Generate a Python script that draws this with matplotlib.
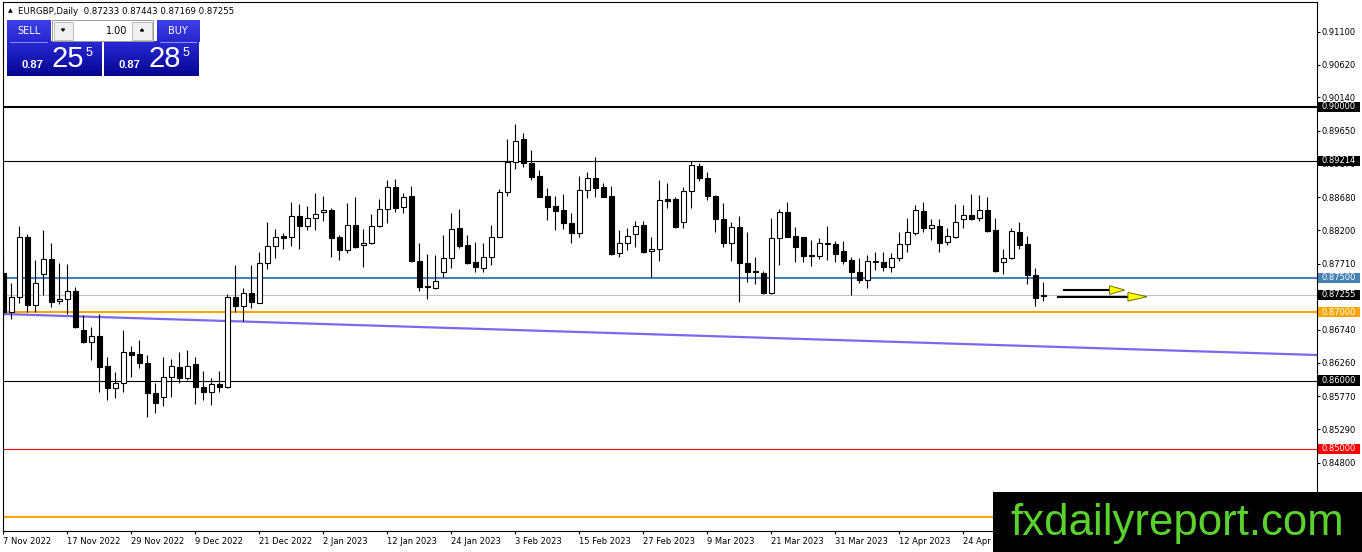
import numpy as np
import matplotlib
matplotlib.use('Agg')
import matplotlib.pyplot as plt
from matplotlib.patches import Rectangle, Polygon
from matplotlib.transforms import blended_transform_factory

# EURGBP daily candles, 7 Nov 2022 .. 8 May 2023 (one per weekday)
opens = [
    0.87568, 0.87007, 0.87217, 0.88095, 0.87105, 0.87558, 0.87773, 0.87159, 0.87188, 0.87310,
    0.86739, 0.86568, 0.86652, 0.86213, 0.85896, 0.85960, 0.86422, 0.86384, 0.86252, 0.85813,
    0.85755, 0.86057, 0.86194, 0.86033, 0.86238, 0.85906, 0.85837, 0.85945, 0.85910, 0.87217,
    0.87095, 0.87281, 0.87139, 0.87715, 0.87967, 0.88114, 0.88095, 0.88410, 0.88260, 0.88381,
    0.88460, 0.88494, 0.88095, 0.87909, 0.88274, 0.87978, 0.88016, 0.88264, 0.88504, 0.88827,
    0.88533, 0.88699, 0.87748, 0.87387, 0.87358, 0.87592, 0.87787, 0.88226, 0.87978, 0.87729,
    0.87641, 0.87802, 0.88104, 0.88752, 0.89193, 0.89527, 0.89187, 0.88991, 0.88699, 0.88552,
    0.88494, 0.88302, 0.88162, 0.88786, 0.88957, 0.88826, 0.88699, 0.87861, 0.88011, 0.88139,
    0.88270, 0.87894, 0.87919, 0.88650, 0.88650, 0.88314, 0.88772, 0.89139, 0.88962, 0.88699,
    0.88358, 0.88016, 0.88243, 0.87715, 0.87602, 0.87568, 0.87285, 0.88080, 0.88460, 0.88114,
    0.88095, 0.87836, 0.87821, 0.88001, 0.87997, 0.87894, 0.87763, 0.87592, 0.87471, 0.87748,
    0.87729, 0.87665, 0.87787, 0.87991, 0.88153, 0.88479, 0.88235, 0.88260, 0.88022, 0.88104,
    0.88358, 0.88421, 0.88372, 0.88494, 0.88201, 0.87729, 0.87787, 0.88168, 0.87991, 0.87544,
    0.87233]
highs = [
    0.87884, 0.87426, 0.88260, 0.88143, 0.87763, 0.88201, 0.88016, 0.87723, 0.87700, 0.87372,
    0.86959, 0.86779, 0.86969, 0.86349, 0.86130, 0.86739, 0.86505, 0.86593, 0.86374, 0.85960,
    0.86349, 0.86311, 0.86413, 0.86447, 0.86349, 0.86144, 0.86033, 0.86144, 0.87266, 0.87690,
    0.87347, 0.87690, 0.87875, 0.88314, 0.88216, 0.88162, 0.88606, 0.88577, 0.88557, 0.88738,
    0.88704, 0.88523, 0.88128, 0.88592, 0.88680, 0.88216, 0.88435, 0.88650, 0.88932, 0.88943,
    0.88747, 0.88845, 0.88016, 0.87851, 0.87836, 0.88128, 0.88445, 0.88504, 0.88128, 0.88022,
    0.88007, 0.88274, 0.88796, 0.89527, 0.89751, 0.89615, 0.89371, 0.89079, 0.88811, 0.88699,
    0.88728, 0.88445, 0.88991, 0.89054, 0.89264, 0.88884, 0.88845, 0.88201, 0.88226, 0.88338,
    0.88333, 0.88095, 0.88932, 0.88893, 0.88689, 0.88835, 0.89217, 0.89187, 0.89050, 0.88713,
    0.88601, 0.88323, 0.88406, 0.88168, 0.87802, 0.87602, 0.88372, 0.88508, 0.88615, 0.88241,
    0.88104, 0.88055, 0.88080, 0.88264, 0.88045, 0.88045, 0.87811, 0.87787, 0.87836, 0.87884,
    0.87884, 0.87869, 0.88168, 0.88372, 0.88567, 0.88615, 0.88358, 0.88362, 0.88226, 0.88582,
    0.88567, 0.88728, 0.88713, 0.88689, 0.88372, 0.87922, 0.88226, 0.88314, 0.88115, 0.87641,
    0.87443]
lows = [
    0.86837, 0.86896, 0.87130, 0.87007, 0.87007, 0.87251, 0.87071, 0.87120, 0.86969, 0.86764,
    0.86554, 0.86301, 0.85837, 0.85716, 0.85750, 0.85837, 0.86057, 0.86179, 0.85463, 0.85530,
    0.85633, 0.85764, 0.85960, 0.86008, 0.85653, 0.85716, 0.85643, 0.85837, 0.85887, 0.87007,
    0.86871, 0.87065, 0.87130, 0.87631, 0.87796, 0.87924, 0.87972, 0.87924, 0.88201, 0.88201,
    0.88326, 0.87811, 0.87763, 0.87861, 0.87934, 0.87665, 0.87997, 0.88250, 0.88302, 0.88469,
    0.88445, 0.87738, 0.87314, 0.87193, 0.87339, 0.87519, 0.87641, 0.87934, 0.87705, 0.87592,
    0.87592, 0.87690, 0.88095, 0.88698, 0.89089, 0.89118, 0.88932, 0.88680, 0.88348, 0.88201,
    0.88211, 0.88016, 0.88104, 0.88665, 0.88689, 0.88680, 0.87836, 0.87811, 0.87903, 0.87948,
    0.87861, 0.87519, 0.87753, 0.88527, 0.88226, 0.88235, 0.88527, 0.88922, 0.88640, 0.88177,
    0.87957, 0.87753, 0.87153, 0.87446, 0.87412, 0.87261, 0.87261, 0.87690, 0.88095, 0.87738,
    0.87738, 0.87680, 0.87773, 0.87763, 0.87738, 0.87705, 0.87251, 0.87422, 0.87354, 0.87617,
    0.87602, 0.87592, 0.87748, 0.87884, 0.88128, 0.88177, 0.88055, 0.87884, 0.87982, 0.88089,
    0.88226, 0.88348, 0.88333, 0.88177, 0.87583, 0.87553, 0.87777, 0.87924, 0.87417, 0.87095,
    0.87169]
closes = [
    0.87007, 0.87217, 0.88095, 0.87105, 0.87426, 0.87773, 0.87153, 0.87188, 0.87310, 0.86788,
    0.86568, 0.86652, 0.86203, 0.85896, 0.85960, 0.86422, 0.86378, 0.86252, 0.85813, 0.85677,
    0.86048, 0.86213, 0.86033, 0.86218, 0.85901, 0.85837, 0.85945, 0.85910, 0.87217, 0.87095,
    0.87281, 0.87144, 0.87715, 0.87967, 0.88095, 0.88080, 0.88410, 0.88260, 0.88381, 0.88440,
    0.88494, 0.88089, 0.87909, 0.88274, 0.87957, 0.88016, 0.88264, 0.88504, 0.88827, 0.88527,
    0.88689, 0.87753, 0.87372, 0.87364, 0.87460, 0.87787, 0.88211, 0.87967, 0.87724, 0.87665,
    0.87802, 0.88104, 0.88752, 0.89193, 0.89507, 0.89177, 0.88981, 0.88689, 0.88542, 0.88484,
    0.88302, 0.88162, 0.88786, 0.88957, 0.88811, 0.88689, 0.87851, 0.88011, 0.88120, 0.88260,
    0.87884, 0.87924, 0.88640, 0.88630, 0.88250, 0.88772, 0.89153, 0.88966, 0.88699, 0.88358,
    0.88011, 0.88243, 0.87715, 0.87592, 0.87592, 0.87285, 0.88080, 0.88460, 0.88104, 0.87948,
    0.87826, 0.87817, 0.88007, 0.88016, 0.87846, 0.87753, 0.87583, 0.87471, 0.87748, 0.87733,
    0.87665, 0.87787, 0.87991, 0.88168, 0.88494, 0.88235, 0.88274, 0.88016, 0.88114, 0.88314,
    0.88421, 0.88362, 0.88494, 0.88192, 0.87602, 0.87787, 0.88187, 0.87982, 0.87544, 0.87203,
    0.87255]

date_ticks = [0, 8, 16, 24, 32, 40, 48, 56, 64, 72, 80, 88, 96, 104, 112, 120]
date_labels = ['7 Nov 2022', '17 Nov 2022', '29 Nov 2022', '9 Dec 2022', '21 Dec 2022',
               '2 Jan 2023', '12 Jan 2023', '24 Jan 2023', '3 Feb 2023', '15 Feb 2023',
               '27 Feb 2023', '9 Mar 2023', '21 Mar 2023', '31 Mar 2023', '12 Apr 2023',
               '24 Apr 2023']
price_ticks = [0.91100, 0.90620, 0.90140, 0.89650, 0.89170, 0.88680, 0.88200,
               0.87710, 0.87230, 0.86740, 0.86260, 0.85770, 0.85290, 0.84800]
# 0.87230 sits right under the bid box, so its text is not shown
price_labels = ['0.91100', '0.90620', '0.90140', '0.89650', '0.89170', '0.88680', '0.88200',
                '0.87710', '', '0.86740', '0.86260', '0.85770', '0.85290', '0.84800']

# horizontal levels drawn on the chart
levels = [0.90000, 0.89214, 0.87500, 0.87255, 0.87000, 0.86000, 0.85000, 0.84000]
level_colors = ['black', 'black', '#4682B4', '#C0C0C0', '#FFA500', 'black', '#FF0000', '#FFA500']
level_widths = [1.5, 0.8, 1.5, 0.8, 1.5, 0.8, 0.8, 1.5]
label_colors = ['black', 'black', '#4682B4', 'black', '#FFA500', 'black', '#FF0000', None]

# trend line (bar index, price)
trend_bars = [0, 164.2]
trend_prices = [0.86973, 0.86374]

# two arrows to the right of the last candle
arrow_prices = [0.87324, 0.87226]
arrow_from = [132.6, 131.9]
arrow_to = [138.3, 140.6]
arrow_tip = [140.2, 143.0]

W, H = 1362, 552
fig = plt.figure(figsize=(W / 100, H / 100), dpi=100)
fig.patch.set_facecolor('white')

ax = fig.add_axes([3 / W, (H - 531) / H, (1316.7 - 3) / W, (531 - 2) / H])
ax.set_xlim(-0.04, 164.2)
ax.set_ylim(0.83801, 0.91535)

n = len(opens)
x = np.arange(n)
o = np.array(opens); hi = np.array(highs); lo = np.array(lows); c = np.array(closes)

# levels
for lv, col, lw in zip(levels, level_colors, level_widths):
    ax.axhline(lv, color=col, lw=lw, zorder=1)

ax.plot(trend_bars, trend_prices, color='#7B68EE', lw=1.6, zorder=1.2)

# candles
ax.vlines(x, lo, hi, color='black', lw=0.8, zorder=2)
bull = c >= o
body_h = np.maximum(np.abs(c - o), 0.00005)
ax.bar(x[bull], body_h[bull], bottom=np.minimum(o, c)[bull], width=0.62,
       color='white', edgecolor='black', linewidth=0.8, zorder=3)
ax.bar(x[~bull], body_h[~bull], bottom=np.minimum(o, c)[~bull], width=0.62,
       color='black', edgecolor='black', linewidth=0.8, zorder=3)

# arrows
hh = 0.00063
for p, a0, a1, tip in zip(arrow_prices, arrow_from, arrow_to, arrow_tip):
    ax.plot([a0, a1], [p, p], color='black', lw=1.5, zorder=4)
    ax.add_patch(Polygon([(a1, p + hh), (a1, p - hh), (tip, p)], closed=True,
                         facecolor='#FFFF00', edgecolor='#6f6f00', lw=0.7, zorder=4))

# axes styling
for s in ax.spines.values():
    s.set_color('black')
    s.set_linewidth(0.8)
ax.yaxis.tick_right()
ax.set_yticks(price_ticks)
ax.set_yticklabels(price_labels)
ax.set_xticks(date_ticks)
ax.set_xticklabels(date_labels, ha='left')
ax.tick_params(axis='both', direction='out', length=2.4, width=0.8, labelsize=6,
               colors='black', pad=1)
ax.tick_params(axis='x', pad=2)

# price boxes on the right scale
bt = blended_transform_factory(ax.transAxes, ax.transData)
for lv, col in zip(levels, label_colors):
    if col is None:
        continue
    ax.add_patch(Rectangle((1.0011, lv - 0.00075), 0.0318, 0.0015, transform=bt,
                           facecolor=col, edgecolor='none', clip_on=False, zorder=6))
    ax.text(1.00358, lv, '%.5f' % lv, transform=bt, color='white', fontsize=6,
            ha='left', va='center', clip_on=False, zorder=7)

# overlay in pixel coordinates for the trade panel and logo
ov = fig.add_axes([0, 0, 1, 1], zorder=10)
ov.patch.set_alpha(0)


def grad(x0, x1, y0, y1, ctop, cbot):
    a = np.array(matplotlib.colors.to_rgb(ctop))
    b = np.array(matplotlib.colors.to_rgb(cbot))
    t = np.linspace(0, 1, 64)[:, None, None]
    img = a * (1 - t) + b * t
    ov.imshow(img, extent=(x0, x1, y1, y0), aspect='auto', interpolation='bilinear',
              origin='upper', zorder=1)


grad(6.7, 50.5, 20.5, 41.7, '#4040ea', '#2626cc')
grad(156.7, 199, 20.5, 41.7, '#4040ea', '#2626cc')
grad(6.7, 101.7, 41.7, 76, '#2a2ad6', '#050590')
grad(104, 199, 41.7, 76, '#2a2ad6', '#050590')
ov.plot([10, 47], [41.7, 41.7], color='#a0a0f0', lw=0.6, zorder=2)
ov.plot([160, 196], [41.7, 41.7], color='#a0a0f0', lw=0.6, zorder=2)

ov.add_patch(Rectangle((52, 20), 101, 20.7, facecolor='white', edgecolor='#9a9a9a', lw=0.7, zorder=2))
ov.add_patch(Rectangle((53.5, 21.5), 19.5, 18, facecolor='#f0f0f0', edgecolor='#b4b4b4', lw=0.6, zorder=3))
ov.add_patch(Rectangle((132, 21.5), 19.5, 18, facecolor='#f0f0f0', edgecolor='#b4b4b4', lw=0.6, zorder=3))
ov.add_patch(Polygon([(61.5, 29), (64.5, 29), (63, 31)], closed=True, color='black', zorder=4))
ov.add_patch(Polygon([(140.5, 31), (143.5, 31), (142, 29)], closed=True, color='black', zorder=4))
ov.text(127.5, 30.5, '1.00', fontsize=7, ha='right', va='center', color='black', zorder=4)
ov.text(28.6, 31, 'SELL', fontsize=7, ha='center', va='center', color='white', zorder=4)
ov.text(177.8, 31, 'BUY', fontsize=7, ha='center', va='center', color='white', zorder=4)

for cx, big, sup in [(0, '25', '5'), (97.3, '28', '5')]:
    ov.text(32 + cx, 68, '0.87', fontsize=8, fontweight='bold', color='white',
            ha='center', va='baseline', family='Liberation Sans', zorder=4)
    ov.text(67.5 + cx, 66.7, big, fontsize=21, color='white', ha='center', va='baseline',
            family='Liberation Sans', zorder=4)
    ov.text(88.5 + cx, 56, sup, fontsize=9, color='white', ha='center', va='baseline',
            family='Liberation Sans', zorder=4)

ov.text(8, 11, '\u25B2', fontsize=4.5, ha='left', va='center', color='black')
ov.text(18, 11, 'EURGBP,Daily  0.87233 0.87443 0.87169 0.87255', fontsize=6.2,
        ha='left', va='center', color='black')

ov.add_patch(Rectangle((993, 492), W - 993, H - 492, facecolor='black', edgecolor='none', zorder=5))
ov.text(1177, 535, 'fxdailyreport.com', fontsize=31.5, color='#5ad22e', ha='center',
        va='baseline', family='Liberation Sans', zorder=6)

ov.set_xlim(0, W)
ov.set_ylim(H, 0)
ov.axis('off')

fig.savefig('out.png', dpi=100)
